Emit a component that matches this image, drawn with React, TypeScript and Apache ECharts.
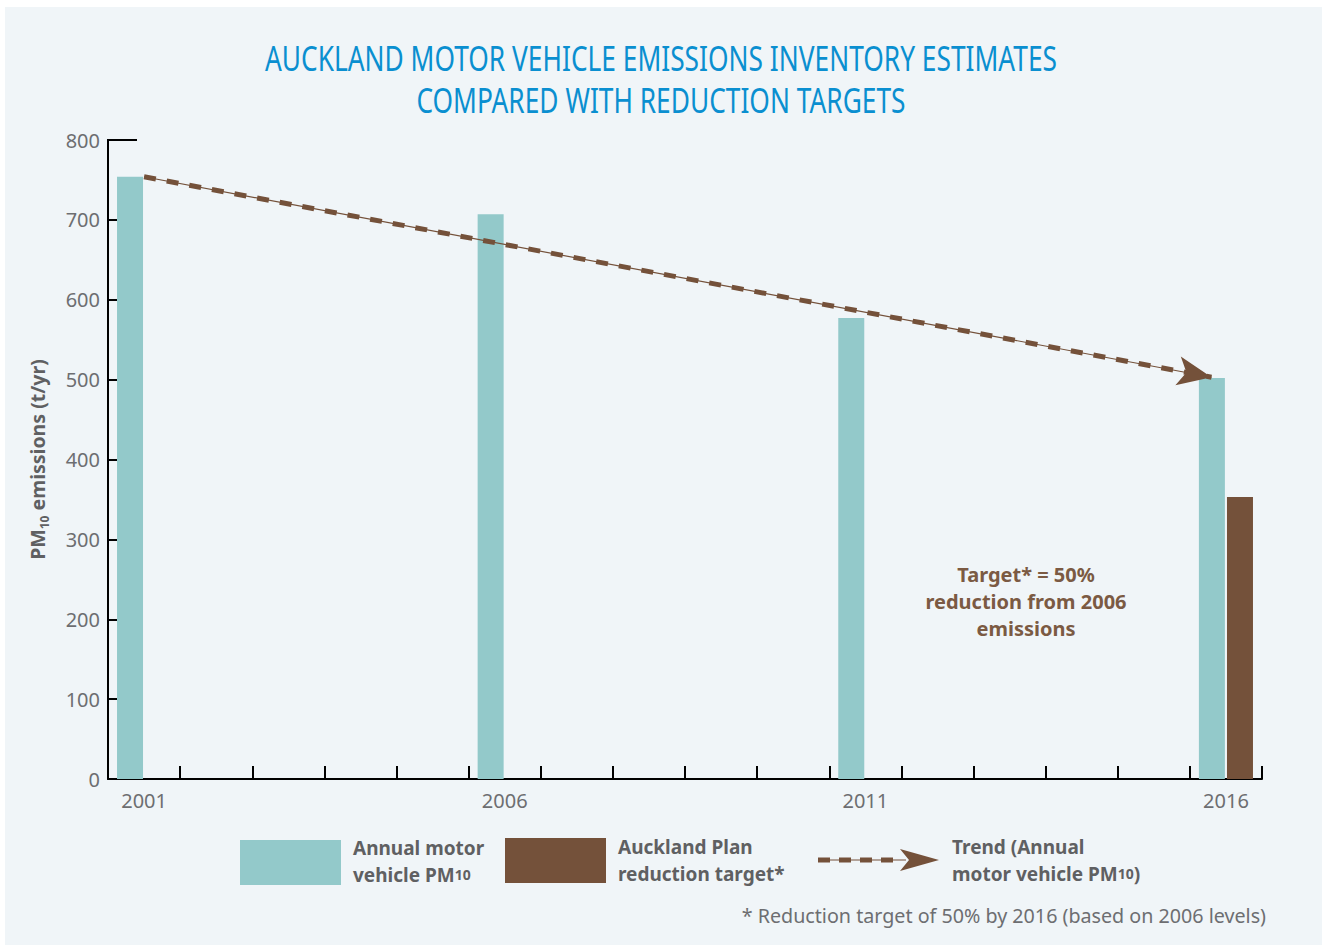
import React, { useEffect, useRef } from 'react';
import * as echarts from 'echarts';

// ---------- data ----------
const years = ['2001', '2002', '2003', '2004', '2005', '2006', '2007', '2008', '2009', '2010', '2011', '2012', '2013', '2014', '2015', '2016'];
const labelledYears = ['2001', '2006', '2011', '2016'];
const annualYears = ['2001', '2006', '2011', '2016'];
const annualPM10 = [754, 707, 577, 502];
const targetYears = ['2016'];
const targetPM10 = [353];
const trendYears = [2001, 2015.8];
const trendValues = [754, 503];
const yMin = 0;
const yMax = 800;
const yStep = 100;

const titleLines = ['AUCKLAND MOTOR VEHICLE EMISSIONS INVENTORY ESTIMATES', 'COMPARED WITH REDUCTION TARGETS'];
const annotationLines = ['Target* = 50%', 'reduction from 2006', 'emissions'];
const footnote = '* Reduction target of 50% by 2016 (based on 2006 levels)';

// ---------- style ----------
const CYAN = '#93c9ca';
const BROWN = '#74513a';
const BROWN_TEXT = '#7b5a43';
const GREY = '#6d6e71';
const DARK_GREY = '#5f6062';
const BLUE = '#0a8fd0';
const PANEL = '#f0f5f8';
const FONT = '"Noto Sans", "Open Sans", sans-serif';

const GRID = { left: 108, top: 140, right: 60, bottom: 166 };

function valueFor(keys: string[], vals: number[]) {
  return years.map((y) => {
    const i = keys.indexOf(y);
    return i >= 0 ? vals[i] : null;
  });
}

export default function App() {
  const ref = useRef<HTMLDivElement>(null);

  useEffect(() => {
    if (!ref.current) return;
    const chart = echarts.init(ref.current, null, { renderer: 'svg' });

    const legendRich = {
      b: { fontFamily: FONT, fontSize: 19, fontWeight: 'bold', fill: DARK_GREY, lineHeight: 27 },
      s: { fontFamily: FONT, fontSize: 14, fontWeight: 'bold', fill: DARK_GREY, lineHeight: 27 },
    };

    const option: any = {
      animation: false,
      backgroundColor: '#ffffff',
      grid: { left: GRID.left, top: GRID.top, right: GRID.right, bottom: GRID.bottom, containLabel: false },
      xAxis: [
        {
          type: 'category',
          data: years,
          boundaryGap: true,
          axisLine: { show: true, lineStyle: { color: '#000', width: 2 } },
          axisTick: { show: true, inside: true, length: 13, interval: 0, lineStyle: { color: '#000', width: 2 } },
          axisLabel: {
            interval: (i: number, v: string) => labelledYears.indexOf(v) >= 0,
            margin: 11,
            fontSize: 20,
            fontFamily: FONT,
            color: GREY,
          },
          splitLine: { show: false },
        },
        {
          type: 'value',
          min: 2000.5,
          max: 2016.5,
          show: false,
        },
      ],
      yAxis: {
        type: 'value',
        min: yMin,
        max: yMax,
        interval: yStep,
        axisLine: { show: true, lineStyle: { color: '#000', width: 2 } },
        axisTick: { show: true, inside: true, length: 9, lineStyle: { color: '#000', width: 2 } },
        axisLabel: { margin: 8, fontSize: 20, fontFamily: FONT, color: GREY },
        splitLine: { show: false },
        name: '{b|PM}{s|10}{b| emissions (t/yr)}',
        nameLocation: 'middle',
        nameGap: 58,
        nameRotate: 90,
        nameTextStyle: {
          rich: {
            b: { fontFamily: FONT, fontSize: 19.5, fontWeight: 'bold', color: DARK_GREY, lineHeight: 26 },
            s: { fontFamily: FONT, fontSize: 12, fontWeight: 'bold', color: DARK_GREY, lineHeight: 14, verticalAlign: 'bottom', padding: [9, 0, 0, 0] },
          },
        },
      },
      series: [
        {
          type: 'bar',
          name: 'Annual motor vehicle PM10',
          data: valueFor(annualYears, annualPM10),
          barWidth: 26,
          barGap: '8%',
          itemStyle: { color: CYAN },
          z: 2,
        },
        {
          type: 'bar',
          name: 'Auckland Plan reduction target*',
          data: valueFor(targetYears, targetPM10),
          barWidth: 26,
          barGap: '8%',
          itemStyle: { color: BROWN },
          z: 2,
        },
        {
          type: 'line',
          name: 'Trend',
          xAxisIndex: 1,
          data: trendYears.map((x, i) => [x, trendValues[i]]),
          symbol: 'none',
          lineStyle: { color: BROWN, width: 1.2 },
          z: 5,
          markLine: {
            silent: true,
            symbol: ['none', 'arrow'],
            symbolSize: [22, 34],
            label: { show: false },
            lineStyle: { color: BROWN, width: 5, type: [12, 11], opacity: 1 },
            data: [
              [
                { coord: [trendYears[0], trendValues[0]] },
                { coord: [trendYears[1], trendValues[1]] },
              ],
            ],
            z: 6,
          },
        },
      ],
      graphic: [
        { type: 'rect', z: -100, silent: true, shape: { x: 5, y: 7, width: 1317, height: 938 }, style: { fill: PANEL } },
        {
          type: 'text',
          x: 661,
          y: 36,
          scaleX: 0.752,
          style: {
            text: titleLines.join('\n'),
            fontFamily: FONT,
            fontSize: 35,
            lineHeight: 42,
            fill: BLUE,
            align: 'center',
            verticalAlign: 'top',
          },
        },
        // long tick at top of y axis
        {
          type: 'line',
          shape: { x1: GRID.left - 1, y1: GRID.top, x2: GRID.left + 29, y2: GRID.top },
          style: { stroke: '#000', lineWidth: 2 },
          z: 10,
        },
        // annotation
        {
          type: 'text',
          x: 1026,
          y: 561,
          style: {
            text: annotationLines.join('\n'),
            fontFamily: FONT,
            fontSize: 20,
            fontWeight: 'bold',
            lineHeight: 27,
            fill: BROWN_TEXT,
            align: 'center',
          },
        },
        // legend: cyan
        { type: 'rect', shape: { x: 240, y: 840, width: 101, height: 45 }, style: { fill: CYAN } },
        {
          type: 'text',
          x: 353,
          y: 834,
          style: { text: '{b|Annual motor}\n{b|vehicle PM}{s|10}', rich: legendRich },
        },
        // legend: brown
        { type: 'rect', shape: { x: 505, y: 838, width: 101, height: 45 }, style: { fill: BROWN } },
        {
          type: 'text',
          x: 618,
          y: 833,
          style: { text: '{b|Auckland Plan}\n{b|reduction target*}', rich: legendRich },
        },
        // legend: trend
        {
          type: 'line',
          shape: { x1: 818, y1: 860, x2: 906, y2: 860 },
          style: { stroke: BROWN, lineWidth: 1.2 },
        },
        {
          type: 'line',
          shape: { x1: 818, y1: 860, x2: 900, y2: 860 },
          style: { stroke: BROWN, lineWidth: 5, lineDash: [12, 9] },
        },
        {
          type: 'polygon',
          shape: { points: [[900, 849], [939, 860], [900, 871], [909, 860]] },
          style: { fill: BROWN },
        },
        {
          type: 'text',
          x: 952,
          y: 833,
          style: { text: '{b|Trend (Annual}\n{b|motor vehicle PM}{s|10}{b|)}', rich: legendRich },
        },
        // footnote
        {
          type: 'text',
          right: 56,
          top: 905,
          style: { text: footnote, fontFamily: FONT, fontSize: 19.7, fill: GREY },
        },
      ],
    };

    chart.setOption(option);
    return () => chart.dispose();
  }, []);

  return <div ref={ref} style={{ position: 'fixed', left: 0, top: 0, width: 1322, height: 945 }} />;
}
